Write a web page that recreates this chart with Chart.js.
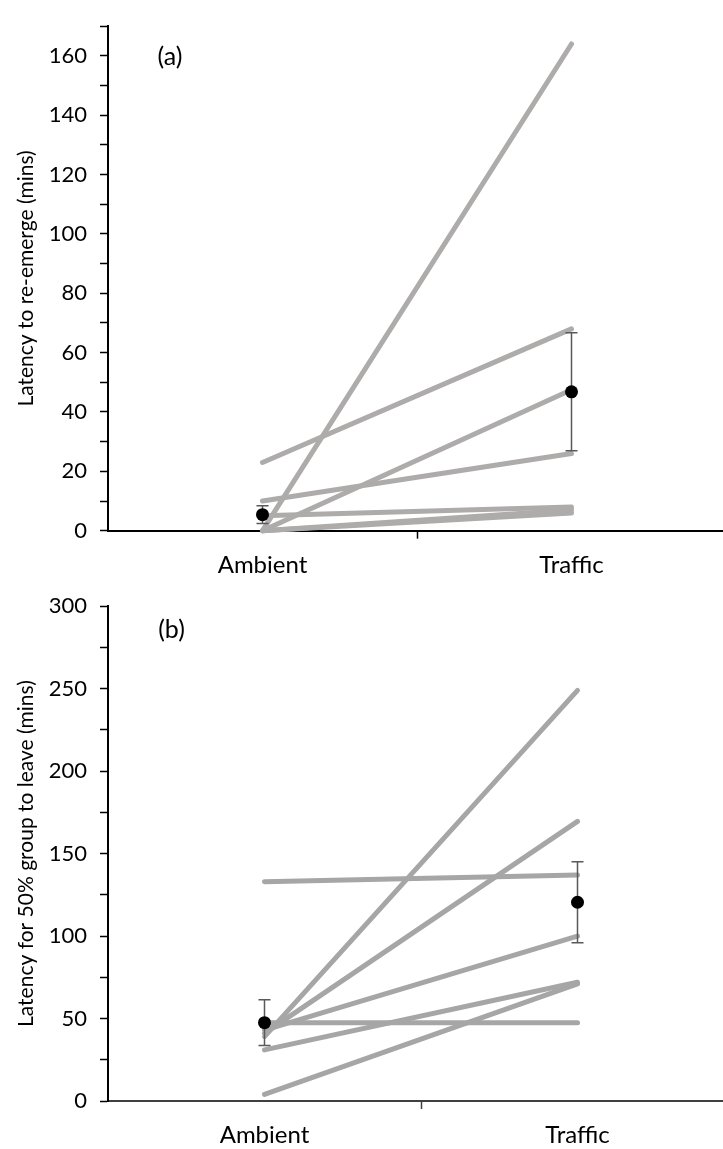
<!DOCTYPE html>
<html>
<head>
<meta charset="utf-8">
<script src="https://cdn.jsdelivr.net/npm/chart.js@4/dist/chart.umd.min.js"></script>
<style>
  html, body { margin: 0; padding: 0; background: #fff; width: 723px; height: 1149px; overflow: hidden; position: relative; }
  .panel { position: absolute; left: 0; }
  #pa { top: 0; width: 726px; height: 580px; }
  #pb { top: 580px; width: 734px; height: 569px; }
</style>
</head>
<body>
<div class="panel" id="pa"><canvas id="ca"></canvas></div>
<div class="panel" id="pb"><canvas id="cb"></canvas></div>
<script>
// Treatments on the x axis
const treatments = ['Ambient', 'Traffic'];

// Panel (a): latency to re-emerge, one line per group (mins)
const reemergeAmbient = [0, 23, 0, 10, 5, 0, 0];
const reemergeTraffic = [164, 68, 47.5, 26, 8, 7, 6];
const reemergeMean = [5.4, 46.8];
const reemergeErr = [3.0, 19.9];
const reemergeTickLabels = [0, 20, 40, 60, 80, 100, 120, 140, 160];

// Panel (b): latency for 50% of group to leave, one line per group (mins)
const leaveAmbient = [39, 41, 133, 43, 31, 4, 47.5];
const leaveTraffic = [249, 169.5, 137, 100, 72, 71, 47.5];
const leaveMean = [47.5, 120.5];
const leaveErr = [13.9, 24.5];
const leaveTickLabels = [0, 50, 100, 150, 200, 250, 300];

const FONT = 'Lato, "Open Sans", sans-serif';
Chart.defaults.font.family = FONT;
Chart.defaults.font.size = 22;
Chart.defaults.color = '#000';

// Mean ± error bars, drawn just before the mean markers
const errorBars = {
  id: 'errorBars',
  beforeDatasetDraw(chart, args, opts) {
    if (args.index !== 0) return;
    const { ctx, scales: { x, y } } = chart;
    ctx.save();
    ctx.strokeStyle = opts.color;
    ctx.lineWidth = opts.width;
    opts.mean.forEach((m, i) => {
      const px = x.getPixelForValue(i);
      const top = y.getPixelForValue(m + opts.err[i]);
      const bot = y.getPixelForValue(m - opts.err[i]);
      ctx.beginPath();
      ctx.moveTo(px, top); ctx.lineTo(px, bot);
      ctx.moveTo(px - opts.cap, top); ctx.lineTo(px + opts.cap, top);
      ctx.moveTo(px - opts.cap, bot); ctx.lineTo(px + opts.cap, bot);
      ctx.stroke();
    });
    ctx.restore();
  }
};

// Panel letter in the upper-left of the plot
const panelTag = {
  id: 'panelTag',
  afterDraw(chart, args, opts) {
    const { ctx, chartArea } = chart;
    ctx.save();
    ctx.font = '25px ' + FONT;
    ctx.fillStyle = '#000';
    ctx.textAlign = 'center';
    ctx.textBaseline = 'middle';
    ctx.fillText(opts.text, chartArea.left + opts.dx, chartArea.top + opts.dy);
    ctx.restore();
  }
};

function makePanel(id, p) {
  const datasets = [{
    data: p.mean,
    showLine: false,
    pointRadius: 6.5,
    pointBackgroundColor: '#000',
    pointBorderColor: '#000',
    pointBorderWidth: 0,
    clip: false
  }];
  p.ambient.forEach((a, i) => {
    datasets.push({
      data: [a, p.traffic[i]],
      borderColor: p.lineColor,
      borderWidth: 5,
      borderCapStyle: 'round',
      pointRadius: 0,
      tension: 0,
      clip: false
    });
  });

  return new Chart(document.getElementById(id), {
    type: 'line',
    data: { labels: treatments, datasets },
    plugins: [errorBars, panelTag],
    options: {
      responsive: true,
      maintainAspectRatio: false,
      animation: false,
      layout: { autoPadding: false, padding: { top: p.padTop, left: 0, right: 0, bottom: 0 } },
      plugins: {
        legend: { display: false },
        tooltip: { enabled: false },
        errorBars: { mean: p.mean, err: p.err, color: '#595959', width: 1.5, cap: 6 },
        panelTag: { text: p.tag, dx: p.tagDx, dy: p.tagDy }
      },
      scales: {
        x: {
          type: 'category',
          offset: true,
          grid: {
            offset: true,
            drawOnChartArea: false,
            drawTicks: true,
            tickLength: 8,
            tickWidth: 1.5,
            tickColor: c => (c.index === 1 ? p.xAxisColor : 'rgba(0,0,0,0)')
          },
          border: { display: true, color: p.xAxisColor, width: 2 },
          ticks: { padding: 12, color: '#000', maxRotation: 0, font: { size: 24 } },
          afterFit: s => { s.height = p.xHeight; }
        },
        y: {
          min: 0,
          max: p.yMax,
          grid: { drawOnChartArea: false, drawTicks: true, tickLength: 8, tickWidth: 1.5, tickColor: '#000' },
          border: { display: true, color: '#000', width: 2 },
          ticks: {
            stepSize: p.yStep,
            autoSkip: false,
            padding: 13,
            color: '#000',
            font: { size: 22 },
            callback: v => (p.yLabels.includes(v) ? String(v) : '')
          },
          title: { display: true, text: p.title, color: '#000', font: { size: 21 }, padding: { top: 14, bottom: 0 } },
          afterFit: s => { s.width = 108; }
        }
      }
    }
  });
}

makePanel('ca', {
  ambient: reemergeAmbient, traffic: reemergeTraffic,
  mean: reemergeMean, err: reemergeErr,
  yMax: 170, yStep: 10, yLabels: reemergeTickLabels,
  title: 'Latency to re-emerge (mins)',
  tag: '(a)', tagDx: 62, tagDy: 30.5,
  lineColor: '#AEABAB', xAxisColor: '#000',
  padTop: 9.5, xHeight: 49.3
});

makePanel('cb', {
  ambient: leaveAmbient, traffic: leaveTraffic,
  mean: leaveMean, err: leaveErr,
  yMax: 300, yStep: 25, yLabels: leaveTickLabels,
  title: 'Latency for 50% group to leave (mins)',
  tag: '(b)', tagDx: 63.5, tagDy: 24,
  lineColor: '#A6A6A6', xAxisColor: '#404040',
  padTop: 24, xHeight: 48
});
</script>
</body>
</html>
